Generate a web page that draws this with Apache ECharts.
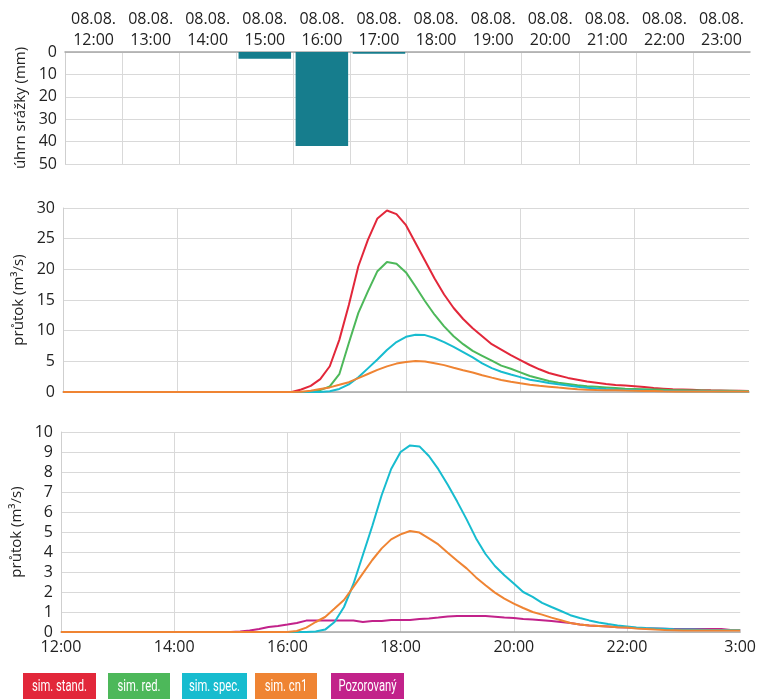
<!DOCTYPE html>
<html><head><meta charset="utf-8">
<script src="https://cdn.jsdelivr.net/npm/echarts@6/dist/echarts.min.js"></script>
<style>html,body{margin:0;padding:0;background:#fff}#c{width:759px;height:699px}</style>
</head><body><div id="c"></div>
<script>
// ---- data ----
const dateLabel = '08.08.';
const hourLabels = ['12:00','13:00','14:00','15:00','16:00','17:00','18:00','19:00','20:00','21:00','22:00','23:00'];
const rain = [0, 0, 0, 3, 42, 0.8, 0, 0, 0, 0, 0, 0];

// flow samples every 10 minutes from 12:00 to 24:00 (73 samples)
const simStand = [0,0,0,0,0,0, 0,0,0,0,0,0, 0,0,0,0,0,0, 0,0,0,0,0,0,
  0,0.4,1.0,2.1,4.2,8.5, 14.2,20.5,24.8,28.3,29.6,29.0,
  27.2,24.3,21.4,18.5,15.9,13.7, 11.9,10.4,9.1,7.8,6.9,6.0,
  5.2,4.4,3.7,3.1,2.7,2.3, 2.0,1.7,1.5,1.3,1.15,1.05,
  0.95,0.8,0.65,0.55,0.45,0.4, 0.35,0.3,0.27,0.25,0.22,0.2, 0.18];
const simRed = [0,0,0,0,0,0, 0,0,0,0,0,0, 0,0,0,0,0,0, 0,0,0,0,0,0,
  0,0,0,0.3,0.9,2.9, 8.0,12.9,16.4,19.7,21.2,20.9,
  19.5,17.2,14.8,12.6,10.7,9.1, 7.8,6.7,5.9,5.1,4.3,3.8,
  3.2,2.6,2.2,1.8,1.5,1.3, 1.1,0.95,0.85,0.75,0.65,0.55,
  0.5,0.45,0.4,0.35,0.3,0.3, 0.25,0.25,0.22,0.2,0.2,0.18, 0.17];
const simSpec = [0,0,0,0,0,0, 0,0,0,0,0,0, 0,0,0,0,0,0, 0,0,0,0,0,0,
  0,0,0,0.02,0.12,0.5, 1.25,2.4,3.85,5.3,6.85,8.15,
  9.0,9.33,9.28,8.8,8.14,7.36, 6.52,5.63,4.68,3.9,3.3,2.84,
  2.43,2.0,1.76,1.46,1.25,1.05, 0.84,0.7,0.58,0.48,0.4,0.33,
  0.28,0.23,0.2,0.18,0.16,0.14, 0.13,0.12,0.11,0.1,0.1,0.1, 0.1];
const simCn1 = [0,0,0,0,0,0, 0,0,0,0,0,0, 0,0,0,0,0,0, 0,0,0,0,0,0,
  0,0.05,0.22,0.5,0.75,1.17, 1.6,2.26,2.93,3.6,4.18,4.63,
  4.88,5.05,4.97,4.68,4.38,3.96, 3.56,3.18,2.73,2.34,1.97,1.67,
  1.42,1.2,1.0,0.87,0.72,0.59, 0.45,0.38,0.33,0.3,0.27,0.24,
  0.22,0.18,0.15,0.12,0.1,0.09, 0.08,0.08,0.08,0.07,0.07,0.07, 0.07];
const observed = [0,0,0,0,0,0, 0,0,0,0,0,0, 0,0,0,0,0,0, 0,0.02,0.08,0.15,0.25,0.3,
  0.37,0.45,0.57,0.57,0.57,0.57, 0.57,0.57,0.5,0.55,0.55,0.6,
  0.6,0.6,0.65,0.68,0.72,0.78, 0.8,0.8,0.8,0.8,0.76,0.72,
  0.7,0.65,0.62,0.59,0.55,0.5, 0.45,0.38,0.33,0.3,0.27,0.24,
  0.22,0.2,0.18,0.17,0.16,0.15, 0.15,0.15,0.15,0.15,0.15,0.1, 0.1];
const flowTickLabels = {12:'12:00', 14:'14:00', 16:'16:00', 18:'18:00', 20:'20:00', 22:'22:00', 24:'3:00'};
const legendNames = ['sim. stand.','sim. red.','sim. spec.','sim. cn1','Pozorovaný'];
const colors = ['#e2273a','#4db85a','#17bccf','#ef8433','#c2228a'];
const barColor = '#167d8d';

// ---- build ----
const times = simStand.map((_, i) => 12 + i / 6);
const pairs = arr => arr.map((v, i) => [times[i], v]);
const FONT = '"Open Sans", sans-serif';
const FS = 16;
const TXT = '#222';
const GRIDC = '#d9d9d9';
const AXC = '#a6a6a6';

const chart = echarts.init(document.getElementById('c'), null, {renderer: 'canvas'});

const yCommon = (gi, min, max, interval, name, gap, extra) => Object.assign({
  type: 'value', gridIndex: gi, min, max, interval,
  name, nameLocation: 'middle', nameGap: gap,
  nameTextStyle: {fontSize: 15, color: TXT, fontFamily: FONT},
  axisLine: {show: true, lineStyle: {color: '#cfcfcf', width: 1}},
  axisTick: {show: false},
  axisLabel: {fontSize: FS, color: TXT, fontFamily: FONT, margin: 8},
  splitLine: {show: true, lineStyle: {color: GRIDC, width: 1}}
}, extra || {});

const legendGraphics = [];
const boxes = [[23,73],[108,62],[182,65],[255,62],[331,73]];
legendNames.forEach((n, i) => {
  const [bx, bw] = boxes[i];
  legendGraphics.push({type: 'rect', left: bx, top: 673, shape: {width: bw, height: 26}, style: {fill: colors[i]}});
  legendGraphics.push({type: 'text', x: bx + bw / 2, y: 687, scaleX: 0.66,
    style: {text: n, fill: '#fff', font: '17px Roboto, sans-serif', align: 'center', verticalAlign: 'middle'}});
});

const lineSeries = (name, arr, color, xi, z) => ({
  type: 'line', name, data: pairs(arr), xAxisIndex: xi, yAxisIndex: xi,
  showSymbol: false, symbol: 'none', smooth: false, z,
  lineStyle: {color, width: 2}, itemStyle: {color}
});

chart.setOption({
  animation: false,
  backgroundColor: '#fff',
  grid: [
    {left: 65, top: 52, width: 685, height: 112},
    {left: 63, top: 208, width: 686, height: 184},
    {left: 61, top: 432, width: 686, height: 200}
  ],
  xAxis: [
    {type: 'category', gridIndex: 0, position: 'top', data: hourLabels.map(h => dateLabel + '\n' + h),
     boundaryGap: true,
     axisLine: {show: true, lineStyle: {color: AXC, width: 1.5}},
     axisTick: {show: false},
     axisLabel: {fontSize: FS, color: TXT, fontFamily: FONT, lineHeight: 21, margin: 1, interval: 0},
     splitLine: {show: true, showMaxLine: false, interval: 0, lineStyle: {color: GRIDC, width: 1}}},
    {type: 'value', gridIndex: 1, min: 12, max: 24, interval: 2,
     axisLine: {show: true, onZero: false, lineStyle: {color: AXC, width: 1.5}},
     axisTick: {show: false}, axisLabel: {show: false},
     splitLine: {show: true, showMaxLine: false, lineStyle: {color: GRIDC, width: 1}}},
    {type: 'value', gridIndex: 2, min: 12, max: 24, interval: 2,
     axisLine: {show: true, onZero: false, lineStyle: {color: AXC, width: 1.5}},
     axisTick: {show: false},
     axisLabel: {fontSize: FS, color: TXT, fontFamily: FONT, margin: 7,
       formatter: v => flowTickLabels[v] !== undefined ? flowTickLabels[v] : ''},
     splitLine: {show: true, showMaxLine: false, lineStyle: {color: GRIDC, width: 1}}}
  ],
  yAxis: [
    yCommon(0, 0, 50, 10, 'úhrn srážky (mm)', 35, {inverse: true}),
    yCommon(1, 0, 30, 5, 'průtok (m³/s)', 33),
    yCommon(2, 0, 10, 1, 'průtok (m³/s)', 33)
  ],
  series: [
    {type: 'bar', name: 'úhrn', data: rain, xAxisIndex: 0, yAxisIndex: 0,
     barCategoryGap: '8%', itemStyle: {color: barColor}},
    lineSeries(legendNames[0], simStand, colors[0], 1, 2),
    lineSeries(legendNames[1], simRed, colors[1], 1, 3),
    lineSeries(legendNames[2], simSpec, colors[2], 1, 4),
    lineSeries(legendNames[3], simCn1, colors[3], 1, 5),
    lineSeries(legendNames[4], observed, colors[4], 2, 2),
    lineSeries(legendNames[2], simSpec, colors[2], 2, 3),
    lineSeries(legendNames[3], simCn1, colors[3], 2, 4)
  ],
  graphic: legendGraphics
});
</script>
</body></html>
